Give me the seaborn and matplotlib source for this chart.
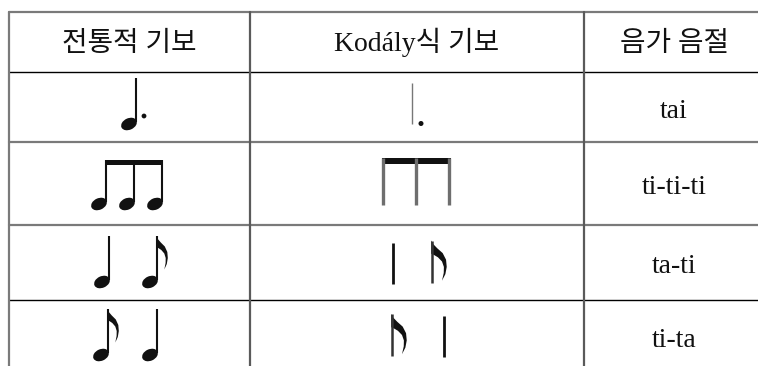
import matplotlib.pyplot as plt
import seaborn as sns
from matplotlib.patches import Ellipse, Circle, Polygon, Rectangle

# table content
headers = ["전통적 기보", "Kodály식 기보", "음가 음절"]
syllables = ["tai", "ti-ti-ti", "ta-ti", "ti-ta"]
# q = quarter, e = eighth, dq = dotted quarter
rhythms = [["dq"], ["e", "e", "e"], ["q", "e"], ["e", "q"]]
beamed = [False, True, False, False]

# layout (pixels, y goes down)
col_edges = [9, 249.5, 584, 764]
row_edges = [12, 71.5, 142, 225, 299.5, 372]
hline_dark = [False, True, False, False, True]

trad_spacing = [0, 28, 48, 49]
trad_shift = [6.75, 4.75, 3.75, 3.25]
trad_head_dy = [52.5, 62, 57, 55.5]
kod_spacing = [0, 33, 39, 52]
kod_shift = [-4.75, -0.75, -4.25, 1.25]
kod_bottom_dy = [52, 63, 57.5, 56.5]

ink = "#111111"
grey = "#7a7a7a"

# eighth-note flag outline, relative to stem top
FLAG = [(0, 0), (1.5, 3), (4.5, 6.5), (8.5, 10.5), (11, 16), (11.5, 22), (10.5, 28), (8, 33.5),
        (9.3, 27), (9.4, 22), (8, 17.5), (5, 14), (2, 12), (0, 11)]

sns.set_theme(style="white")
plt.rcParams["font.family"] = ["Liberation Serif", "Noto Sans CJK KR", "DejaVu Sans"]

fig = plt.figure(figsize=(7.58, 3.66), dpi=100)
ax = fig.add_axes([0, 0, 1, 1])
ax.set_xlim(0, 758)
ax.set_ylim(366, 0)
ax.axis("off")


def head(cx, cy):
    ax.add_patch(Ellipse((cx, cy), 16.5, 11.5, angle=-25, color=ink, lw=0))


def stem(x, y0, y1, lw=1.5, color=ink):
    ax.plot([x, x], [y0, y1], color=color, lw=lw, solid_capstyle="butt")


def flag(x, y, sx=1.0, sy=1.0):
    pts = [(x + dx * sx, y + dy * sy) for dx, dy in FLAG]
    ax.add_patch(Polygon(pts, closed=True, color=ink, lw=0))


# grid
for y, dark in zip(row_edges[:-1], hline_dark):
    if dark:
        ax.plot([col_edges[0], col_edges[-1]], [y, y], color="#000000", lw=1.0)
    else:
        ax.plot([col_edges[0], col_edges[-1]], [y, y], color=grey, lw=1.6)
for x in col_edges[:-1]:
    ax.plot([x, x], [row_edges[0], 380], color="#5a5a5a" if x > 20 else grey, lw=1.6)

# header
for i, h in enumerate(headers):
    cx = (col_edges[i] + col_edges[i + 1]) / 2
    ax.text(cx, 51, h, ha="center", va="baseline", fontsize=20, color=ink)

trad_cx = (col_edges[0] + col_edges[1]) / 2
kod_cx = (col_edges[1] + col_edges[2]) / 2
syl_cx = (col_edges[2] + col_edges[3]) / 2

for r, notes in enumerate(rhythms):
    top = row_edges[r + 1]
    bottom = row_edges[r + 2]
    n = len(notes)

    # syllables
    ax.text(syl_cx, (top + bottom) / 2 + 11, syllables[r], ha="center",
            va="baseline", fontsize=20, color=ink)

    # traditional notation
    hy = top + trad_head_dy[r]
    xs = [trad_cx + trad_shift[r] + (i - (n - 1) / 2) * trad_spacing[r] for i in range(n)]
    if beamed[r]:
        beam_top = hy - 44
        for sx in xs:
            head(sx - 7, hy)
            stem(sx, hy - 2, beam_top)
        ax.add_patch(Rectangle((xs[0] - 0.8, beam_top), xs[-1] - xs[0] + 1.6, 4.5,
                               color=ink, lw=0))
    else:
        for sx, note in zip(xs, notes):
            head(sx - 7, hy)
            stem(sx, hy - 2, hy - 46)
            if note == "e":
                flag(sx - 0.7, hy - 46)
            if note == "dq":
                ax.add_patch(Circle((sx + 8, hy - 8), 2.4, color=ink, lw=0))

    # Kodaly stick notation
    by = top + kod_bottom_dy[r]
    xs = [kod_cx + kod_shift[r] + (i - (n - 1) / 2) * kod_spacing[r] for i in range(n)]
    if beamed[r]:
        beam_top = by - 47
        for sx in xs:
            stem(sx, by, beam_top, lw=2.4, color="#6e6e6e")
        ax.add_patch(Rectangle((xs[0] - 1.5, beam_top), xs[-1] - xs[0] + 3, 6,
                               color=ink, lw=0))
    else:
        for sx, note in zip(xs, notes):
            if note == "dq":
                stem(sx, by, by - 41, lw=1.0, color="#777777")
                ax.add_patch(Circle((sx + 9, by), 2.5, color=ink, lw=0))
            elif note == "e":
                stem(sx, by, by - 42, lw=1.8, color="#333333")
                flag(sx - 0.8, by - 42, 1.35, 1.2)
            else:
                stem(sx, by + 1, by - 40, lw=2.0, color=ink)

fig.savefig("out.png", dpi=100)
